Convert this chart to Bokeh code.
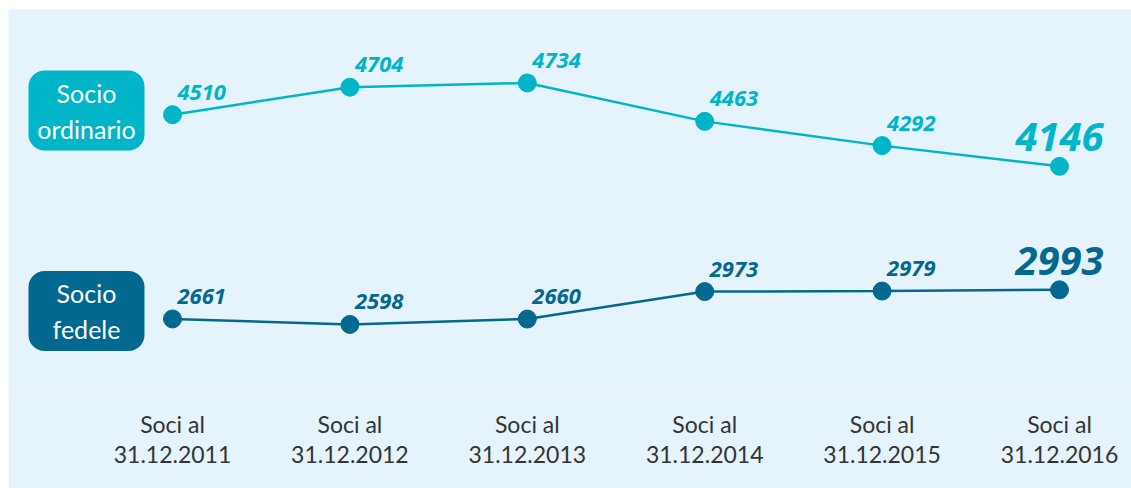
from bokeh.plotting import figure
from bokeh.layouts import row, column
from bokeh.models import Range1d, FixedTicker, BoxAnnotation, Spacer
from bokeh.core.properties import value
from bokeh.embed import file_html
from bokeh.resources import INLINE

# ---- data ----
categories = ["Soci al\n31.12.2011", "Soci al\n31.12.2012", "Soci al\n31.12.2013",
              "Soci al\n31.12.2014", "Soci al\n31.12.2015", "Soci al\n31.12.2016"]
ordinario = [4510, 4704, 4734, 4463, 4292, 4146]
fedele = [2661, 2598, 2660, 2973, 2979, 2993]
series_names = ["Socio\nordinario", "Socio\nfedele"]

# ---- style ----
BG = "#e5f3fc"
C_ORD = "#00b5c8"
C_FED = "#02688f"
TXT = "#333333"

W, H = 1123, 479
BOTTOM = 90
FH = H - BOTTOM

x_idx = list(range(len(categories)))
xr = Range1d(-0.9245, 5.4058)
yr = Range1d(2508.7, 5251.9)
yr_fed = Range1d(1753.7, 6189.2)

p = figure(width=W, height=H, output_backend="svg", toolbar_location=None,
           x_range=xr, y_range=yr, y_axis_location=None,
           min_border_left=0, min_border_right=0, min_border_top=0,
           min_border_bottom=BOTTOM)
p.extra_y_ranges = {"fed": yr_fed}
p.background_fill_color = BG
p.border_fill_color = BG
p.outline_line_color = None
p.xgrid.visible = False
p.ygrid.visible = False

ax = p.xaxis[0]
ax.ticker = FixedTicker(ticks=x_idx)
ax.major_label_overrides = {i: c for i, c in zip(x_idx, categories)}
ax.axis_line_color = None
ax.major_tick_line_color = None
ax.minor_tick_line_color = None
ax.major_label_text_font = "Lato"
ax.major_label_text_font_size = "23px"
ax.major_label_text_color = TXT
ax.major_label_text_line_height = 1.1
ax.major_label_standoff = 5


def xd(px):
    return xr.start + px / W * (xr.end - xr.start)


def yd(py, r):
    return r.end - py / FH * (r.end - r.start)


for vals, col, rname, rng, name, cy in [
    (ordinario, C_ORD, "default", yr, series_names[0], 101),
    (fedele, C_FED, "fed", yr_fed, series_names[1], 301.5),
]:
    p.line(x_idx, vals, line_color=col, line_width=2.5, y_range_name=rname)
    p.scatter(x_idx, vals, size=18, fill_color=col, line_color=col, y_range_name=rname)
    p.text(x=x_idx[:-1], y=vals[:-1], text=[str(v) for v in vals[:-1]],
           x_offset=5, y_offset=-15, text_align="left", text_baseline="bottom",
           text_font=value("Open Sans"), text_font_style="bold italic",
           text_font_size="22px", text_color=col, y_range_name=rname)
    p.text(x=x_idx[-1:], y=vals[-1:], text=[str(vals[-1])],
           y_offset=-15, text_align="center", text_baseline="bottom",
           text_font=value("Open Sans"), text_font_style="bold italic",
           text_font_size="40px", text_color=col, y_range_name=rname)
    # label box
    box = BoxAnnotation(left=xd(20), right=xd(136), top=yd(cy - 40, rng), bottom=yd(cy + 40, rng),
                        fill_color=col, fill_alpha=1.0, line_color=None, border_radius=16,
                        y_range_name=rname, level="underlay")
    p.add_layout(box)
    p.text(x=[xd(78)], y=[yd(cy, rng)], text=[name], text_align="center",
           text_baseline="middle", text_font=value("Lato"), text_font_size="25px",
           text_color="white", text_line_height=1.2, y_range_name=rname)

layout = column(Spacer(height=9, width=W + 8),
                row(Spacer(width=8, height=H), p))

open("out.html", "w").write(file_html(layout, INLINE))
